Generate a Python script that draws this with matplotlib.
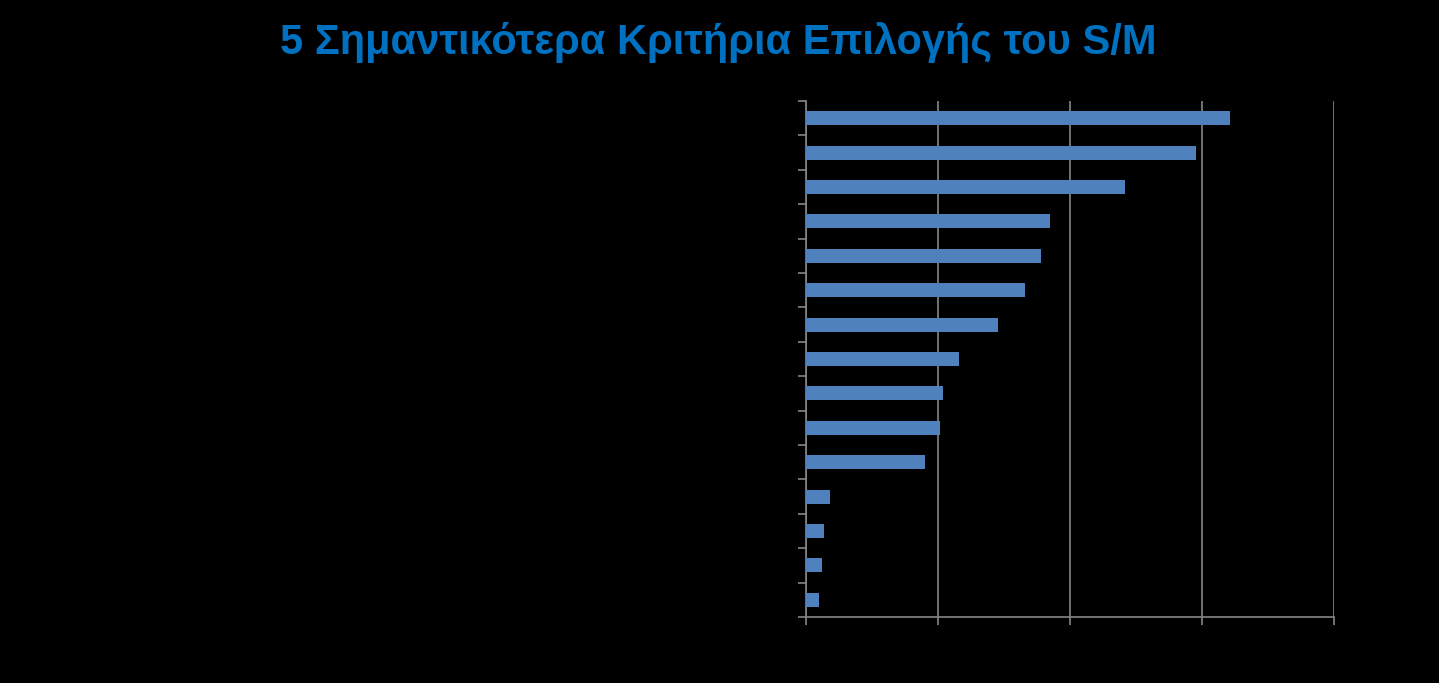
import numpy as np
import matplotlib
matplotlib.use("Agg")
import matplotlib.pyplot as plt

title = "5 Σημαντικότερα Κριτήρια Επιλογής του S/M"

# category labels are drawn in black on the black background (invisible in the reference)
categories = ["Κριτήριο %d" % i for i in range(1, 16)]
values = [64.2, 59.1, 48.3, 37.0, 35.6, 33.2, 29.1, 23.2, 20.8, 20.3, 18.0, 3.6, 2.7, 2.4, 2.0]
x_ticks = [0, 20, 40, 60, 80]

bar_color = "#4F81BD"
grid_color = "#868686"

fig = plt.figure(figsize=(14.39, 6.83), dpi=100, facecolor="black")
ax = fig.add_axes([0.5601, 0.0966, 0.3669, 0.7555])
ax.set_facecolor("black")

y = np.arange(len(categories))
ax.barh(y, values, height=0.41, color=bar_color, zorder=3)
ax.set_ylim(len(categories) - 0.5, -0.5)
ax.set_xlim(x_ticks[0], x_ticks[-1])

ax.set_xticks(x_ticks)
ax.set_xticklabels([str(t) for t in x_ticks], color="black")
ax.set_yticks(y)
ax.set_yticklabels(categories, color="black")
ax.set_yticks(np.arange(len(categories) + 1) - 0.5, minor=True)

ax.tick_params(axis="y", which="major", length=0)
ax.tick_params(axis="y", which="minor", length=6, width=1.2, color=grid_color)
ax.tick_params(axis="x", which="major", length=6, width=1.2, color=grid_color)

ax.grid(axis="x", color=grid_color, linewidth=1.2, zorder=0)
for side in ["top", "right"]:
    ax.spines[side].set_visible(False)
for side in ["left", "bottom"]:
    ax.spines[side].set_color(grid_color)
    ax.spines[side].set_linewidth(1.2)

fig.text(0.499, 0.938, title, ha="center", va="center", color="#0070C0",
         fontsize=30, fontweight="bold",
         family=["Liberation Sans Narrow", "Liberation Sans", "DejaVu Sans"])

fig.savefig("out.png", dpi=100, facecolor="black")
